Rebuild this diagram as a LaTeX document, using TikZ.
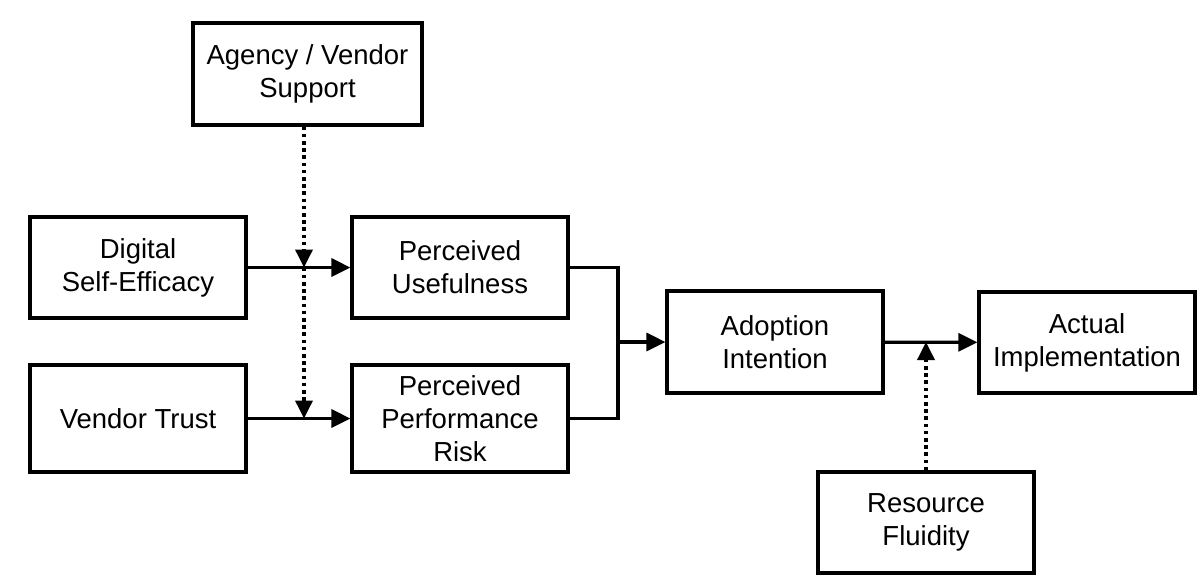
\documentclass[tikz,border=0pt]{standalone}
\usepackage{fontspec}
\setmainfont{Liberation Sans}
\usetikzlibrary{arrows.meta}
\begin{document}
\begin{tikzpicture}[x=1pt,y=-1pt,
  box/.style={draw, line width=3.2pt, align=center, inner sep=0pt,
    minimum width=216pt, minimum height=101pt,
    font=\fontsize{27.5}{33}\selectfont},
  conn/.style={line width=3.2pt, -{Triangle[length=19pt,width=18pt]}},
  plainline/.style={line width=3.2pt},
  dotline/.style={line width=3.6pt, dash pattern=on 3.6pt off 3.6pt, -{Triangle[length=18pt,width=17pt]}}
]
\useasboundingbox (0,0) rectangle (1199,587);
\node[box, minimum width=229pt, minimum height=102pt] (agency) at (307.5,74) {Agency / Vendor\\Support};
\node[box] (dse) at (138,267.5) {Digital\\Self-Efficacy};
\node[box] (pu) at (460,267.5) {Perceived\\Usefulness};
\node[box, minimum height=107pt] (vt) at (138,418.5) {Vendor Trust};
\node[box, minimum height=107pt] (ppr) at (460,418.5) {Perceived\\Performance\\Risk};
\node[box, minimum height=102pt] (ai) at (775,342) {Adoption\\Intention};
\node[box] (act) at (1087,342.5) {Actual\\Implementation};
\node[box] (rf) at (926,522.5) {Resource\\Fluidity};
\coordinate (m1) at (304,267.5);
\coordinate (m2) at (304,418.5);
\coordinate (j) at (618,342);
\coordinate (m3) at (926,342);
\draw[conn] (dse) -- (pu);
\draw[conn] (vt) -- (ppr);
\draw[dotline] (agency.south -| m1) -- (m1);
\draw[dotline] (m1) -- (m2);
\draw[plainline] (pu.east) -| (j);
\draw[plainline] (ppr.east) -| (j);
\draw[conn] (j) -- (ai.west);
\draw[conn] (ai) -- (act);
\draw[dotline] (rf.north) -- (m3);
\end{tikzpicture}
\end{document}
